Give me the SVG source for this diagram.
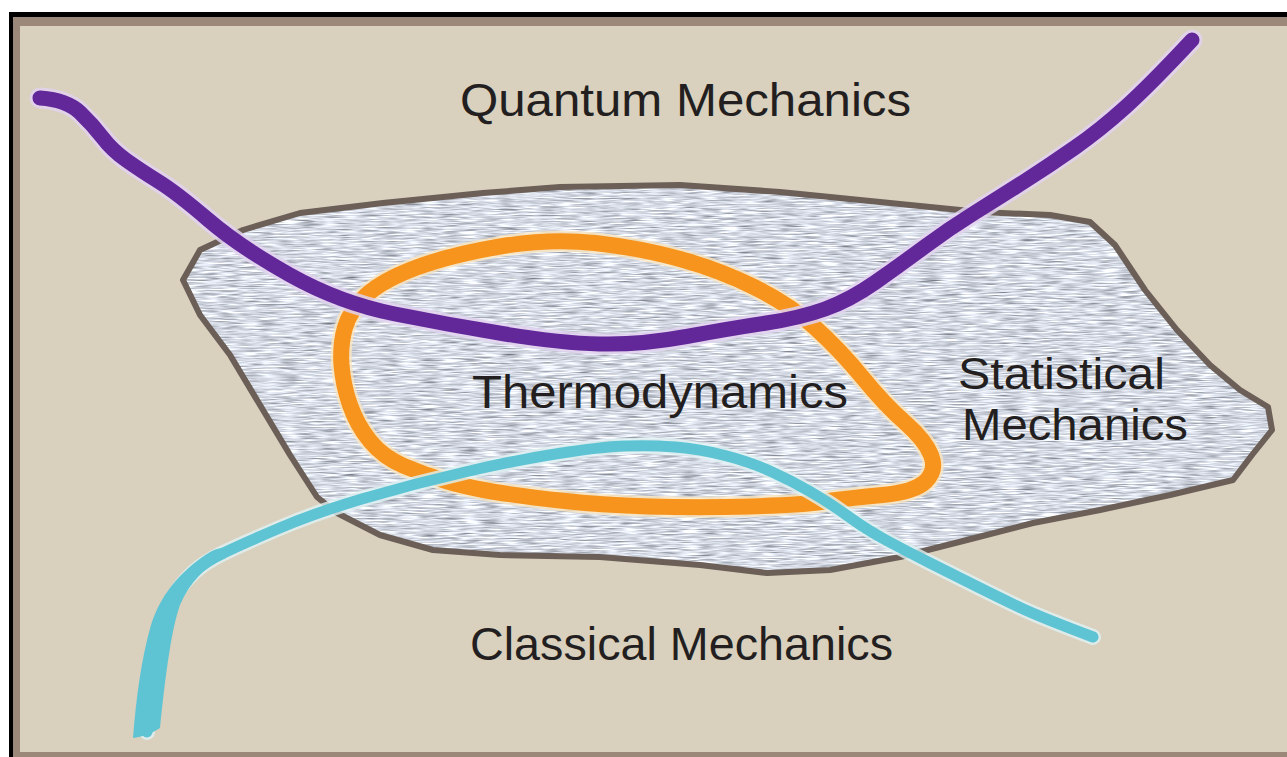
<svg xmlns="http://www.w3.org/2000/svg" width="1287" height="757" viewBox="0 0 1287 757">
<defs>
<style>
.lbl{font-family:"Liberation Sans",Arial,sans-serif;font-size:46px;fill:#231f20;}
.lbl2{font-family:"Liberation Sans",Arial,sans-serif;font-size:44px;fill:#231f20;}
.halo{fill:none;stroke-linecap:round;stroke-linejoin:round;}
</style>
<filter id="tex" x="0" y="0" width="1" height="1" color-interpolation-filters="sRGB">
<feTurbulence type="fractalNoise" baseFrequency="0.05 0.65" numOctaves="2" seed="7"/>
<feColorMatrix type="matrix" values="0.33 0.33 0.33 0 0  0.33 0.33 0.33 0 0  0.33 0.33 0.33 0 0  0 0 0 0 1"/>
<feComponentTransfer>
<feFuncR type="linear" slope="1.4" intercept="0.14"/>
<feFuncG type="linear" slope="1.4" intercept="0.16"/>
<feFuncB type="linear" slope="1.4" intercept="0.2"/>
</feComponentTransfer>
</filter>
<clipPath id="blobClip">
<polygon points="200,250 243,230 300,213 383,203 483,193 560,187 680,185 780,192 880,202 980,212 1050,215 1090,222 1115,245 1145,290 1177,330 1210,365 1240,390 1268,407 1272,430 1252,455 1233,480 1170,495 1100,510 1033,523 967,540 900,557 830,570 767,573 700,565 600,557 500,555 433,550 380,535 337,513 317,497 290,455 260,405 230,355 200,315 183,280"/>
</clipPath>
</defs>
<g id="frame">
<rect x="0" y="0" width="1287" height="757" fill="#ffffff"/>
<rect x="9" y="12" width="1290" height="760" fill="#000000"/>
<rect x="13" y="17" width="1290" height="760" fill="#9c8879"/>
<rect x="20" y="26" width="1290" height="726" fill="#d9d0be"/>
</g>
<g id="statistical-mechanics">
<rect x="170" y="180" width="1110" height="400" fill="#c8ccd3" filter="url(#tex)" clip-path="url(#blobClip)"/>
<polygon points="200,250 243,230 300,213 383,203 483,193 560,187 680,185 780,192 880,202 980,212 1050,215 1090,222 1115,245 1145,290 1177,330 1210,365 1240,390 1268,407 1272,430 1252,455 1233,480 1170,495 1100,510 1033,523 967,540 900,557 830,570 767,573 700,565 600,557 500,555 433,550 380,535 337,513 317,497 290,455 260,405 230,355 200,315 183,280" fill="none" stroke="#6b5f57" stroke-width="6" stroke-linejoin="round"/>
</g>
<g id="boundaries">
<g id="thermodynamics-loop">
<path class="halo" stroke="#fbe6bf" stroke-opacity="0.8" stroke-width="21" d="M500,246.5 Q550,238 595,243 Q640,248 680,259 Q720,270 755,287.5 Q790,305 815,327.5 Q840,350 862.5,377.5 Q885,405 905,422.5 Q925,440 931,455 Q937,470 926,481 Q915,492 882.5,495 Q850,498 825,501.5 Q800,505 750,506.5 Q700,508 650,506.5 Q600,505 560,500.5 Q520,496 495,492 Q470,488 447.5,481.5 Q425,475 404,466 Q383,457 370,441 Q357,425 350,405 Q343,385 341.5,365 Q340,345 345,327.5 Q350,310 366.5,295 Q383,280 416.5,267.5 Q450,255 500,246.5 Z"/>
<path class="halo" stroke="#f7941d" stroke-width="16" d="M500,246.5 Q550,238 595,243 Q640,248 680,259 Q720,270 755,287.5 Q790,305 815,327.5 Q840,350 862.5,377.5 Q885,405 905,422.5 Q925,440 931,455 Q937,470 926,481 Q915,492 882.5,495 Q850,498 825,501.5 Q800,505 750,506.5 Q700,508 650,506.5 Q600,505 560,500.5 Q520,496 495,492 Q470,488 447.5,481.5 Q425,475 404,466 Q383,457 370,441 Q357,425 350,405 Q343,385 341.5,365 Q340,345 345,327.5 Q350,310 366.5,295 Q383,280 416.5,267.5 Q450,255 500,246.5 Z"/>
</g>
<g id="quantum-line">
<path class="halo" stroke="#e2d2f0" stroke-opacity="0.85" stroke-width="21" d="M40,98 Q67,100 80,112.5 Q93,125 102.5,137.5 Q112,150 126,160 Q140,170 158.5,181.5 Q177,193 208.5,220 Q240,247 290,275 Q340,303 395,314 Q450,325 505,334 Q560,343 600,344 Q640,345 686.5,336.5 Q733,328 766.5,323 Q800,318 825,309 Q850,300 875,282.5 Q900,265 925,246.5 Q950,228 975,212.5 Q1000,197 1025,181 Q1050,165 1075,147.5 Q1100,130 1125,107.5 Q1150,85 1192,40"/>
<path class="halo" stroke="#62289a" stroke-width="15" d="M40,98 Q67,100 80,112.5 Q93,125 102.5,137.5 Q112,150 126,160 Q140,170 158.5,181.5 Q177,193 208.5,220 Q240,247 290,275 Q340,303 395,314 Q450,325 505,334 Q560,343 600,344 Q640,345 686.5,336.5 Q733,328 766.5,323 Q800,318 825,309 Q850,300 875,282.5 Q900,265 925,246.5 Q950,228 975,212.5 Q1000,197 1025,181 Q1050,165 1075,147.5 Q1100,130 1125,107.5 Q1150,85 1192,40"/>
</g>
<g id="classical-line">
<path class="halo" stroke="#e0f1f2" stroke-opacity="0.8" stroke-width="16" d="M147,732 Q149,700 151,682.5 Q153,665 156.5,649 Q160,633 164,620.5 Q168,608 175,595.5 Q182,583 193.5,572.5 Q205,562 222.5,553.5 Q240,545 278.5,528.5 Q317,512 367,497.5 Q417,483 467,471.5 Q517,460 558.5,453.5 Q600,447 625,446 Q650,445 675,447 Q700,449 725,455.5 Q750,462 770,471 Q790,480 810,491.5 Q830,503 848.5,516.5 Q867,530 888.5,541.5 Q910,553 930,563 Q950,573 975,585.5 Q1000,598 1020,607.5 Q1040,617 1093,637"/>
<path class="halo" stroke="#5ec4d4" stroke-width="11" d="M147,732 Q149,700 151,682.5 Q153,665 156.5,649 Q160,633 164,620.5 Q168,608 175,595.5 Q182,583 193.5,572.5 Q205,562 222.5,553.5 Q240,545 278.5,528.5 Q317,512 367,497.5 Q417,483 467,471.5 Q517,460 558.5,453.5 Q600,447 625,446 Q650,445 675,447 Q700,449 725,455.5 Q750,462 770,471 Q790,480 810,491.5 Q830,503 848.5,516.5 Q867,530 888.5,541.5 Q910,553 930,563 Q950,573 975,585.5 Q1000,598 1020,607.5 Q1040,617 1093,637"/>
<path fill="#5ec4d4" d="M133,738 C136,700 141,660 151,625 C160,597 178,572 210,552 Q220,547 228,548 L226,558 C205,566 190,582 180,605 C171,630 165,680 160,728 Q148,736 133,738 Z"/>
</g>
</g>
<g id="labels">
<text id="quantum-mechanics" class="lbl" x="460" y="116" textLength="451" lengthAdjust="spacingAndGlyphs">Quantum Mechanics</text>
<text id="thermodynamics" class="lbl" x="472" y="408" textLength="376" lengthAdjust="spacingAndGlyphs">Thermodynamics</text>
<text id="statistical" class="lbl2" x="958" y="389" textLength="207" lengthAdjust="spacingAndGlyphs">Statistical</text>
<text id="mechanics" class="lbl2" x="962" y="440" textLength="226" lengthAdjust="spacingAndGlyphs">Mechanics</text>
<text id="classical-mechanics" class="lbl" x="470" y="660" textLength="423" lengthAdjust="spacingAndGlyphs">Classical Mechanics</text>
</g>
</svg>
